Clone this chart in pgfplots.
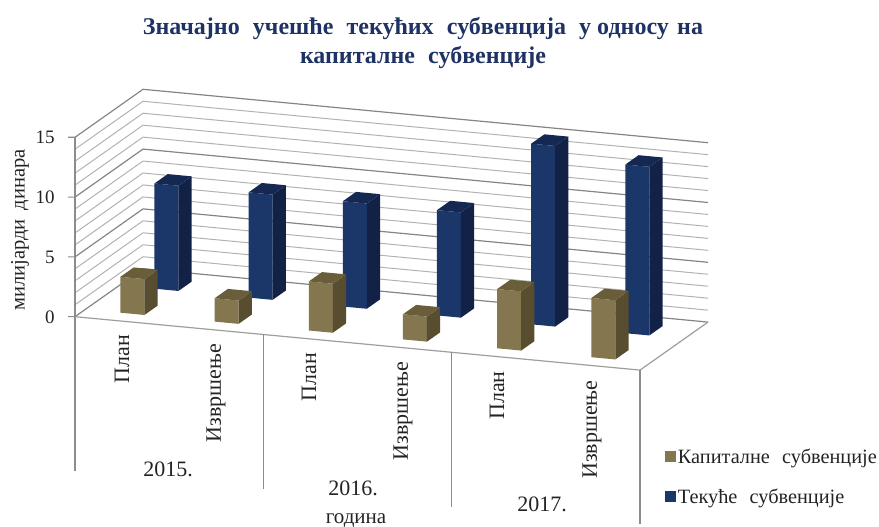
\documentclass[border=0pt]{standalone}
\usepackage{pgfplots}
\pgfplotsset{compat=1.18}
\usepackage{fontspec}
\setmainfont{Liberation Serif}
\definecolor{bfront}{RGB}{132,118,78}
\definecolor{btop}{RGB}{105,93,58}
\definecolor{bside}{RGB}{88,77,47}
\definecolor{nfront}{RGB}{27,54,105}
\definecolor{ntop}{RGB}{20,40,82}
\definecolor{nside}{RGB}{18,34,70}
\definecolor{titleblue}{RGB}{31,50,100}
\definecolor{txt}{RGB}{35,35,35}
\newcommand\tdbar[5]{% x centre, depth centre, value, colour stem
  \addplot3[draw=none,fill=#4front] coordinates {(#1-.1275,#2-.0975,0) (#1+.1275,#2-.0975,0) (#1+.1275,#2-.0975,#3) (#1-.1275,#2-.0975,#3)};
  \addplot3[draw=none,fill=#4side] coordinates {(#1+.1275,#2-.0975,0) (#1+.1275,#2+.0975,0) (#1+.1275,#2+.0975,#3) (#1+.1275,#2-.0975,#3)};
  \addplot3[draw=none,fill=#4top] coordinates {(#1-.1275,#2-.0975,#3) (#1+.1275,#2-.0975,#3) (#1+.1275,#2+.0975,#3) (#1-.1275,#2+.0975,#3)};
}
\newcommand\wallgrid[2]{%
  \addplot3[#2] coordinates {(0,0,#1) (0,1,#1) (6,1,#1)};
}
\begin{document}
\begin{tikzpicture}[x=1pt,y=1pt]
\path[use as bounding box] (0,0) rectangle (879,527);
\begin{axis}[
  at={(75pt,210.3pt)}, anchor=origin,
  x={(94.17pt,-8.9pt)}, y={(68pt,48pt)}, z={(0pt,11.96pt)},
  xmin=0,xmax=6,ymin=0,ymax=1,zmin=-13,zmax=15,
  hide axis, clip=false,
  legend image code/.code={\fill[#1] (0pt,-5.5pt) rectangle (10.5pt,5.5pt);},
  legend style={draw=none,fill=none,at={(axis cs:6.27,0,-6.2)},anchor=north west,
    font=\fontsize{20.3}{22}\selectfont\color{txt},row sep=20pt,inner sep=0pt,outer sep=0pt,
    /tikz/every even column/.style={column sep=4.5pt}},
  legend cell align=left,
]
% legend keys
\addlegendimage{draw=none,fill=bfront}
\addlegendentry{Капиталне\hspace{.35em} субвенције}
\addlegendimage{draw=none,fill=nfront}
\addlegendentry{Текуће\hspace{.35em} субвенције}
% grid
\foreach \v in {1,2,3,4,6,7,8,9,11,12,13,14}{
  \edef\temp{\noexpand\wallgrid{\v}{draw=black!30,line width=1pt,forget plot}}\temp
}
\foreach \v in {0,5,10,15}{
  \edef\temp{\noexpand\wallgrid{\v}{draw=black!48,line width=1.2pt,forget plot}}\temp
}
% floor edges
\addplot3[draw=black!38,line width=1.2pt,forget plot] coordinates {(0,0,0) (6,0,0) (6,1,0)};
% left axis and category separators
\addplot3[draw=black!45,line width=1.1pt,forget plot] coordinates {(0,0,15) (0,0,-12.9)};
\addplot3[draw=black!45,line width=1.1pt,forget plot] coordinates {(2,0,0) (2,0,-12.9)};
\addplot3[draw=black!45,line width=1.1pt,forget plot] coordinates {(4,0,0) (4,0,-12.9)};
\addplot3[draw=black!45,line width=1.1pt,forget plot] coordinates {(6,0,0) (6,0,-12.9)};
% tick marks
\addplot3[draw=black!45,line width=1.1pt,forget plot] coordinates {(-0.0743,0,-0.055) (0,0,0)};
\addplot3[draw=black!45,line width=1.1pt,forget plot] coordinates {(-0.0743,0,4.945) (0,0,5)};
\addplot3[draw=black!45,line width=1.1pt,forget plot] coordinates {(-0.0743,0,9.945) (0,0,10)};
\addplot3[draw=black!45,line width=1.1pt,forget plot] coordinates {(-0.0743,0,14.945) (0,0,15)};
% Текуће субвенције (back row)
\tdbar{0.5}{0.75}{8.8}{n}{}
\tdbar{1.5}{0.75}{8.8}{n}{}
\tdbar{2.5}{0.75}{8.8}{n}{}
\tdbar{3.5}{0.75}{8.8}{n}{}
\tdbar{4.5}{0.75}{15.1}{n}{}
\tdbar{5.5}{0.75}{14.1}{n}{}
% Капиталне субвенције (front row)
\tdbar{0.5}{0.25}{3.0}{b}{}
\tdbar{1.5}{0.25}{1.95}{b}{}
\tdbar{2.5}{0.25}{4.1}{b}{}
\tdbar{3.5}{0.25}{2.1}{b}{}
\tdbar{4.5}{0.25}{4.95}{b}{}
\tdbar{5.5}{0.25}{4.95}{b}{}
% z tick labels
\foreach \v in {0,5,10,15}{
  \edef\temp{\noexpand\node[anchor=east,yshift=-2pt,font=\noexpand\fontsize{19}{20}\noexpand\selectfont,text=txt,inner sep=0pt] at (axis cs:-0.215,0,\v) {\v};}\temp
}
\end{axis}
\begin{scope}[shift={(0,527)},y=-1pt,text=txt]
\node[font=\fontsize{24}{24}\selectfont\bfseries,text=titleblue,align=center] at (423,29) {Значајно\hspace{.3em} учешће\hspace{.3em} текућих\hspace{.3em} субвенција\hspace{.3em} у односу\hspace{.1em} на};
\node[font=\fontsize{24}{24}\selectfont\bfseries,text=titleblue,align=center] at (423,58) {капиталне\hspace{.3em} субвенције};
\node[rotate=90,font=\fontsize{20.5}{22}\selectfont] at (20,230) {милијарди\hspace{.2em} динара};
\foreach \x/\y in {122/359,309/377,497/395.5}{
  \node[rotate=90,font=\fontsize{22}{24}\selectfont] at (\x,\y) {План};
}
\foreach \x/\y in {216/393,403/411,592/429.5}{
  \node[rotate=90,font=\fontsize{22}{24}\selectfont] at (\x,\y) {Извршење};
}
\node[font=\fontsize{22}{24}\selectfont] at (168,469) {2015.};
\node[font=\fontsize{22}{24}\selectfont] at (353,488) {2016.};
\node[font=\fontsize{22}{24}\selectfont] at (542,504) {2017.};
\node[font=\fontsize{21}{24}\selectfont] at (356,521) {година};
\end{scope}
\end{tikzpicture}
\end{document}
